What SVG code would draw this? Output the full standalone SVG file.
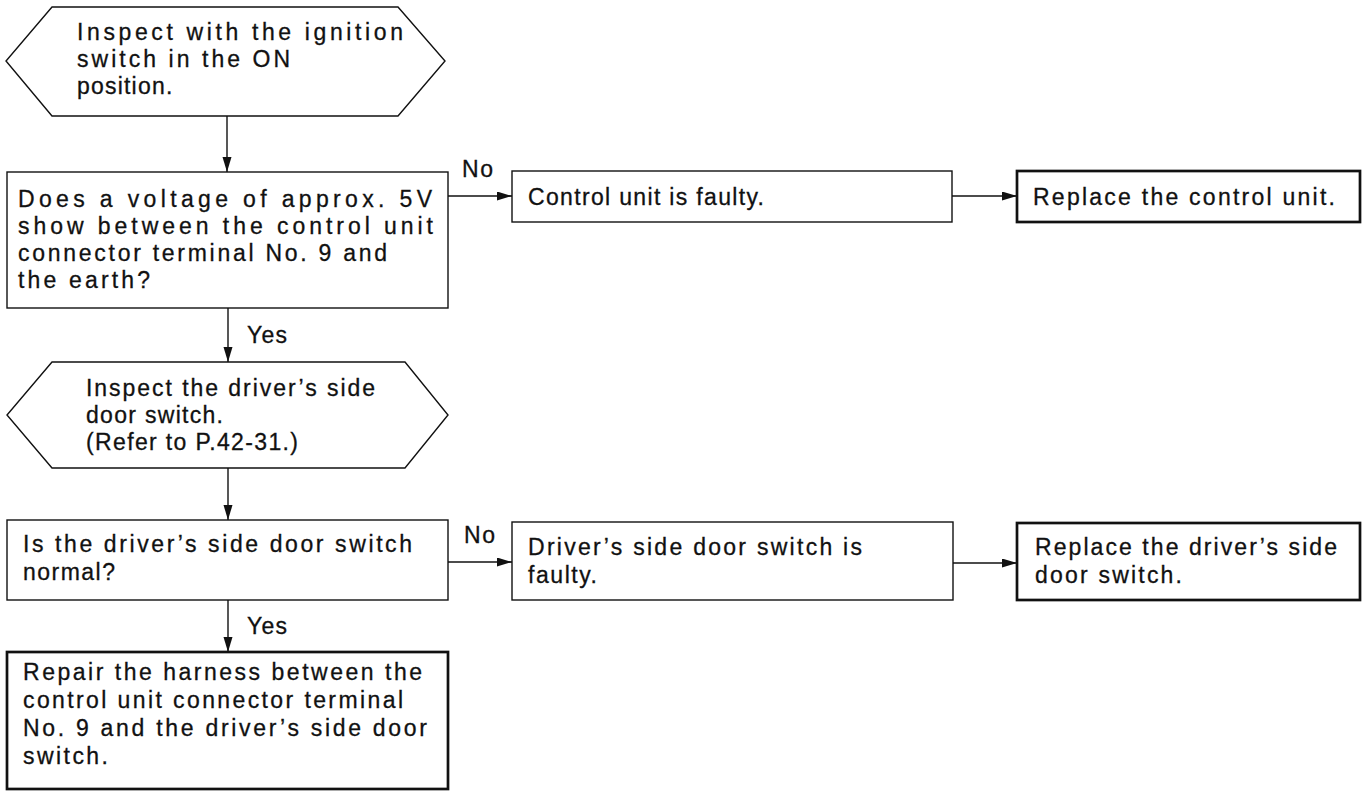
<svg xmlns="http://www.w3.org/2000/svg" width="1364" height="792" viewBox="0 0 1364 792">
<style>
.t{font-family:"Liberation Sans",Arial,sans-serif;font-size:23px;fill:#111;stroke:#111;stroke-width:0.3}
.s{fill:#fff;stroke:#111;stroke-width:1.4}
.k{fill:#fff;stroke:#111;stroke-width:2.7}
.c{fill:none;stroke:#111;stroke-width:1.4}
</style>
<defs>
<marker id="ah" markerUnits="userSpaceOnUse" markerWidth="16" markerHeight="10" refX="15" refY="4.5" orient="auto">
<path d="M0,0 L15,4.5 L0,9 z" fill="#111"/>
</marker>
</defs>
<rect width="1364" height="792" fill="#fff"/>
<g id="connectors">
<line class="c" x1="227" y1="116" x2="227" y2="172" marker-end="url(#ah)"/>
<line class="c" x1="228" y1="308" x2="228" y2="362" marker-end="url(#ah)"/>
<line class="c" x1="228" y1="468" x2="228" y2="520" marker-end="url(#ah)"/>
<line class="c" x1="228" y1="600" x2="228" y2="652" marker-end="url(#ah)"/>
<line class="c" x1="448" y1="196" x2="512" y2="196" marker-end="url(#ah)"/>
<line class="c" x1="952" y1="196" x2="1017" y2="196" marker-end="url(#ah)"/>
<line class="c" x1="448" y1="562" x2="512" y2="562" marker-end="url(#ah)"/>
<line class="c" x1="953" y1="563" x2="1017" y2="563" marker-end="url(#ah)"/>
<text class="t" x="462" y="177" textLength="31" lengthAdjust="spacing">No</text>
<text class="t" x="464" y="543" textLength="31" lengthAdjust="spacing">No</text>
<text class="t" x="247" y="343" textLength="40" lengthAdjust="spacing">Yes</text>
<text class="t" x="247" y="634" textLength="40" lengthAdjust="spacing">Yes</text>
</g>
<g id="start">
<polygon class="s" points="52,7 398,7 445,61 398,116 52,116 6,61"/>
<text class="t" x="77" y="40" textLength="326" lengthAdjust="spacing">Inspect with the ignition</text>
<text class="t" x="77" y="67" textLength="213" lengthAdjust="spacing">switch in the ON</text>
<text class="t" x="77" y="94" letter-spacing="1.2">position.</text>
</g>
<g id="q1">
<rect class="s" x="7" y="172" width="441" height="136"/>
<text class="t" x="18" y="207" textLength="414" lengthAdjust="spacing">Does a voltage of approx. 5V</text>
<text class="t" x="18" y="234" textLength="415" lengthAdjust="spacing">show between the control unit</text>
<text class="t" x="18" y="261" textLength="369" lengthAdjust="spacing">connector terminal No. 9 and</text>
<text class="t" x="18" y="288" textLength="132" lengthAdjust="spacing">the earth?</text>
</g>
<g id="fault1">
<rect class="s" x="512" y="171" width="440" height="51"/>
<text class="t" x="528" y="205" textLength="236" lengthAdjust="spacing">Control unit is faulty.</text>
</g>
<g id="replace1">
<rect class="k" x="1017" y="171" width="343" height="51"/>
<text class="t" x="1033" y="205" textLength="302" lengthAdjust="spacing">Replace the control unit.</text>
</g>
<g id="inspect2">
<polygon class="s" points="52,362 405,362 448,415 405,468 52,468 7,415"/>
<text class="t" x="86" y="396" textLength="289" lengthAdjust="spacing">Inspect the driver’s side</text>
<text class="t" x="86" y="423" textLength="137" lengthAdjust="spacing">door switch.</text>
<text class="t" x="86" y="450" textLength="212" lengthAdjust="spacing">(Refer to P.42-31.)</text>
</g>
<g id="q2">
<rect class="s" x="7" y="520" width="441" height="80"/>
<text class="t" x="23" y="552" textLength="389" lengthAdjust="spacing">Is the driver’s side door switch</text>
<text class="t" x="23" y="580" textLength="92" lengthAdjust="spacing">normal?</text>
</g>
<g id="fault2">
<rect class="s" x="512" y="522" width="441" height="78"/>
<text class="t" x="528" y="555" textLength="334" lengthAdjust="spacing">Driver’s side door switch is</text>
<text class="t" x="528" y="583" textLength="69" lengthAdjust="spacing">faulty.</text>
</g>
<g id="replace2">
<rect class="k" x="1017" y="523" width="343" height="77"/>
<text class="t" x="1035" y="555" textLength="302" lengthAdjust="spacing">Replace the driver’s side</text>
<text class="t" x="1035" y="583" textLength="147" lengthAdjust="spacing">door switch.</text>
</g>
<g id="repair">
<rect class="k" x="7" y="652" width="441" height="137"/>
<text class="t" x="23" y="680" textLength="399" lengthAdjust="spacing">Repair the harness between the</text>
<text class="t" x="23" y="708" textLength="380" lengthAdjust="spacing">control unit connector terminal</text>
<text class="t" x="23" y="736" textLength="404" lengthAdjust="spacing">No. 9 and the driver’s side door</text>
<text class="t" x="23" y="764" textLength="85" lengthAdjust="spacing">switch.</text>
</g>
</svg>
